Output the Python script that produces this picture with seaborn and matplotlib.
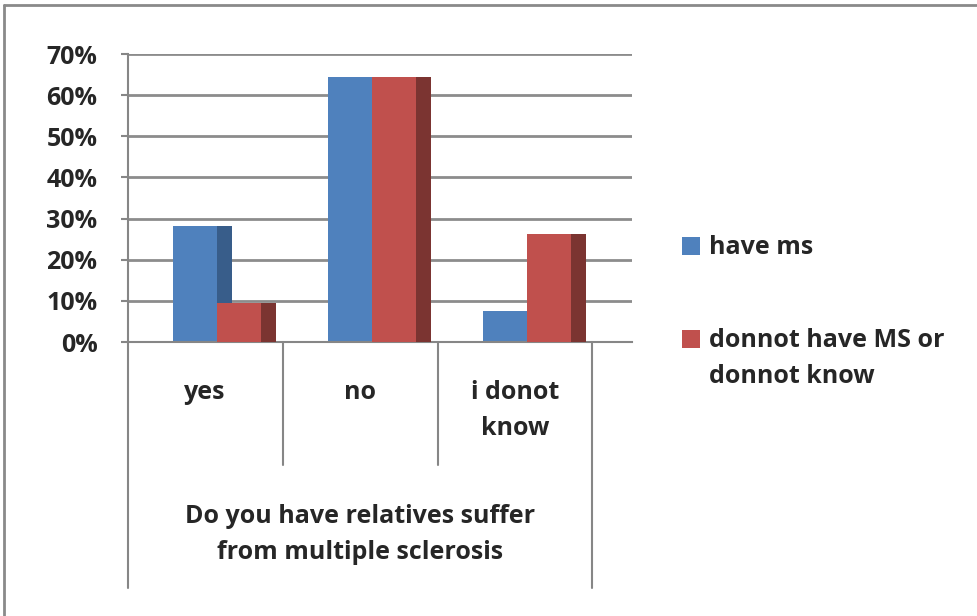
import pandas as pd
import matplotlib
matplotlib.use("Agg")
import matplotlib.pyplot as plt
import seaborn as sns
from matplotlib.patches import Rectangle
from matplotlib.transforms import blended_transform_factory

categories = ["yes", "no", "i donot\nknow"]
have_ms = [28.3, 64.3, 7.5]
no_ms = [9.4, 64.3, 26.3]
series = ["have ms", "donnot have MS or\ndonnot know"]
yticks = [0, 10, 20, 30, 40, 50, 60, 70]
group_label = "Do you have relatives suffer\nfrom multiple sclerosis"

blue, red = "#4F81BD", "#C0504D"
blue_side, red_side = "#385D8A", "#7B3431"
grey = "#868686"

df = pd.DataFrame({
    "answer": categories * 2,
    "share": have_ms + no_ms,
    "group": [series[0]] * 3 + [series[1]] * 3,
})

sns.set_style("white")
plt.rcParams["font.family"] = ["Open Sans", "DejaVu Sans"]
plt.rcParams["font.weight"] = "bold"
fs = 18
ls = 1.6

W, H = 977, 616
fig = plt.figure(figsize=(W / 100, H / 100), dpi=100)
ax = fig.add_axes([128 / W, 1 - 342 / H, 504 / W, 288 / H])

sns.barplot(data=df, x="answer", y="share", hue="group", palette=[blue, red],
            width=0.568, gap=0, saturation=1, linewidth=0, errorbar=None,
            legend=False, ax=ax)

# 3d-ish side faces
side = 0.097
bars = list(ax.patches)
for i, bar in enumerate(bars):
    is_blue = i < 3
    bar.set_zorder(2 if is_blue else 3)
    h = (have_ms + no_ms)[i]
    ax.bar(bar.get_x() + bar.get_width(), h, width=side, align="edge",
           color=blue_side if is_blue else red_side, linewidth=0,
           zorder=2.5 if is_blue else 3)

ax.set_xlim(-0.574, 2.677)
ax.set_ylim(0, 70)
ax.set_yticks(yticks)
ax.set_yticklabels([f"{v}%" for v in yticks], fontsize=fs, fontweight="bold")
ax.yaxis.grid(True, color="#8c8c8c", lw=2)
ax.set_axisbelow(True)
ax.tick_params(axis="y", length=5, width=1.5, color=grey, pad=17, left=True)
ax.tick_params(axis="x", length=0, labelbottom=False)
ax.set_xlabel("")
ax.set_ylabel("")
for s in ["top", "right"]:
    ax.spines[s].set_visible(False)
for s in ["left", "bottom"]:
    ax.spines[s].set_color(grey)
    ax.spines[s].set_linewidth(1.5)

trans = blended_transform_factory(ax.transData, ax.transAxes)
def yfrac(py):
    return (342 - py) / 288

for x, yb in [(-0.574, 588), (0.426, 465), (1.426, 465), (2.419, 588)]:
    ax.plot([x, x], [0, yfrac(yb)], transform=trans, clip_on=False,
            color=grey, lw=1.5)

for i, cat in enumerate(categories):
    ax.text(i - 0.077, yfrac(380), cat, transform=trans, ha="center", va="top",
            fontsize=fs, fontweight="bold", linespacing=ls)
ax.text(0.92, yfrac(504), group_label, transform=trans, ha="center", va="top",
        fontsize=fs, fontweight="bold", linespacing=ls)

# legend
def fx(px):
    return px / W
def fy(py):
    return 1 - py / H

for col, name, top in [(blue, series[0], 237), (red, series[1], 330)]:
    fig.add_artist(Rectangle((fx(682), fy(top + 18)), 18 / W, 18 / H,
                             transform=fig.transFigure, color=col, lw=0))
    fig.text(fx(709), fy(top - 2), name, ha="left", va="top", fontsize=fs,
             fontweight="bold", linespacing=ls)

# chart frame
fig.add_artist(plt.Line2D([fx(4), fx(4)], [fy(5), fy(616)], color="#8a8a8a", lw=2))
fig.add_artist(plt.Line2D([fx(4), fx(977)], [fy(5), fy(5)], color="#8a8a8a", lw=2))

fig.savefig("out.png", dpi=100)
